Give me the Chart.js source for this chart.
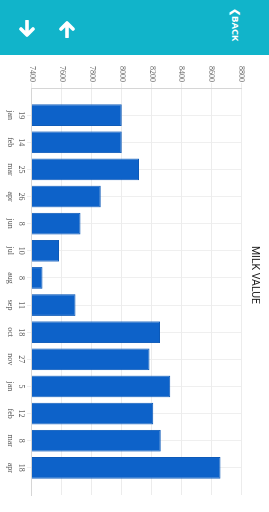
<!DOCTYPE html>
<html>
<head>
<meta charset="utf-8">
<script src="https://cdn.jsdelivr.net/npm/chart.js@4"></script>
<style>
  html, body { margin: 0; padding: 0; background: #fff; overflow: hidden; }
  body { width: 269px; height: 512px; position: relative; }
  .header { position: absolute; left: 0; top: 0; width: 269px; height: 55px; background: #11b4ca; }
  .header svg { position: absolute; }
  .back {
    position: absolute; left: 242px; top: 8px;
    transform-origin: top left; transform: rotate(90deg);
    color: #fff; font: bold 9.5px "Open Sans", sans-serif; white-space: nowrap;
  }
  /* chart is drawn sideways, like the app does */
  .rot {
    position: absolute; left: 0; top: 55px; width: 457px; height: 269px;
    transform-origin: top left; transform: translate(269px, 0) rotate(90deg);
  }
</style>
</head>
<body>
<div class="header">
  <svg width="18" height="18" style="left:18px;top:20px" viewBox="0 0 18 18">
    <path d="M9 1 V15 M3 9 L9 15 L15 9" stroke="#fff" stroke-width="3.6" fill="none" stroke-linecap="round" stroke-linejoin="round"/>
  </svg>
  <svg width="18" height="18" style="left:58px;top:20px" viewBox="0 0 18 18">
    <path d="M9 17 V3 M3 9 L9 3 L15 9" stroke="#fff" stroke-width="3.6" fill="none" stroke-linecap="round" stroke-linejoin="round"/>
  </svg>
  <div class="back">&#10094;BACK</div>
</div>
<div class="rot"><canvas id="milkChart"></canvas></div>
<script>
// dates and milk values
const months = ["jan", "feb", "mar", "apr", "jun", "jul", "aug", "sep", "oct", "nov", "jan", "feb", "mar", "apr"];
const days = ["19", "14", "25", "26", "8", "10", "8", "11", "18", "27", "5", "12", "8", "18"];
const milkValues = [8000, 8000, 8115, 7860, 7725, 7580, 7470, 7690, 8255, 8185, 8325, 8210, 8260, 8660];

const valueMin = 7400;
const valueMax = 8800;
const valueStep = 200;

const tickFont = { family: "'Liberation Serif', serif", size: 8 };

const points = milkValues.map((v, i) => ({ x: i, y: v }));

new Chart(document.getElementById('milkChart'), {
    type: 'bar',
    data: {
        datasets: [{
            label: 'MILK VALUE',
            data: points,
            backgroundColor: '#0d62c9',
            borderColor: '#0b59b8',
            borderWidth: 1,
            categoryPercentage: 1,
            barPercentage: 0.8
        }]
    },
    options: {
        responsive: true,
        maintainAspectRatio: false,
        animation: false,
        layout: { padding: { left: 0, right: 17, top: 0, bottom: 0 } },
        plugins: {
            legend: { display: false },
            tooltip: { enabled: false },
            title: {
                display: true,
                text: 'MILK VALUE',
                color: '#222',
                font: { family: 'Roboto', size: 10.5, weight: 'normal' },
                padding: { top: 8, bottom: 7 }
            }
        },
        scales: {
            x: {
                type: 'linear',
                min: -1,
                max: months.length,
                offset: false,
                grid: {
                    offset: false,
                    tickLength: 5,
                    color: c => (c.tick && c.tick.value >= 0 && c.tick.value < months.length) ? '#efefef' : 'rgba(0,0,0,0)'
                },
                border: { color: '#d6d6d6' },
                ticks: {
                    stepSize: 1,
                    autoSkip: false,
                    maxRotation: 0,
                    minRotation: 0,
                    padding: 1,
                    color: '#555',
                    font: Object.assign({ lineHeight: 1.3 }, tickFont),
                    callback: v => months[v] ? [days[v], months[v]] : ''
                },
                afterFit: s => { s.height = 32; }
            },
            y: {
                min: valueMin,
                max: valueMax,
                grid: { color: '#ececec', tickLength: 5 },
                border: { color: '#d6d6d6' },
                ticks: {
                    stepSize: valueStep,
                    padding: 1,
                    color: '#666',
                    font: tickFont,
                    callback: v => String(v)
                },
                afterFit: s => { s.width = 33; }
            }
        }
    }
});
</script>
</body>
</html>
